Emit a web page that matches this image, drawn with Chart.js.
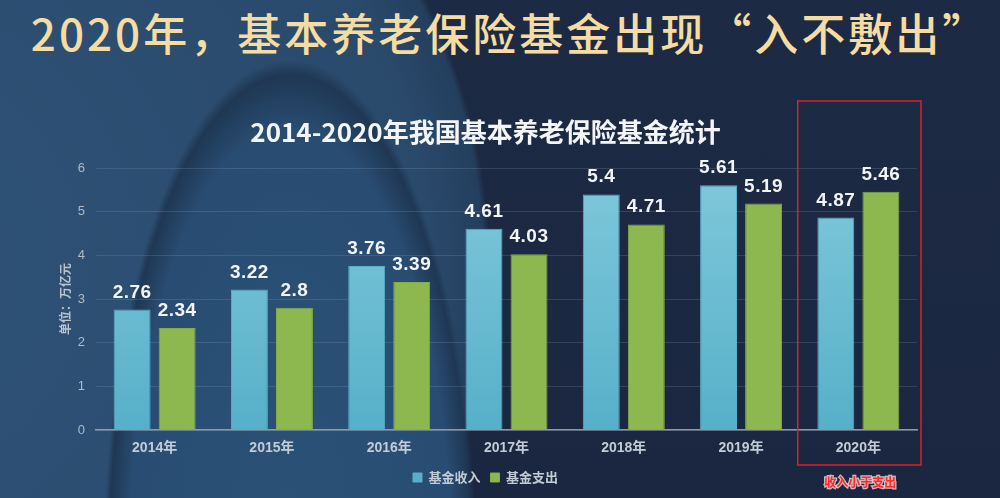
<!DOCTYPE html>
<html>
<head>
<meta charset="utf-8">
<script src="https://cdn.jsdelivr.net/npm/chart.js@4.4.1/dist/chart.umd.min.js"></script>
<style>
  html, body { margin: 0; padding: 0; }
  body {
    width: 1000px; height: 498px; overflow: hidden; position: relative;
    background:
      radial-gradient(ellipse 186px 500px at 290px 560px, #2b5177 0%, #294d72 86%, #1f3754 97%, rgba(31,55,84,0) 100%),
      radial-gradient(ellipse 640px 620px at -150px 270px, #2e5378 0%, #2a4a6c 90%, #243f5e 99%, rgba(36,63,94,0) 100%),
      linear-gradient(180deg, #1d2a44 0%, #1b2740 100%);
  }
  h1 {
    position: absolute; left: 10px; top: 0; width: 1000px; margin: 0;
    text-align: center; font: 500 44px "Noto Sans CJK SC", sans-serif;
    color: #f4dca2; line-height: 64px; letter-spacing: 3px;
  }
  #wrap { position: absolute; left: 0; top: 0; width: 1000px; height: 498px; }
</style>
</head>
<body>
<h1>2020年，基本养老保险基金出现“入不敷出”</h1>
<div id="wrap"><canvas id="chart" width="1000" height="498"></canvas></div>
<script>
const years = ['2014年', '2015年', '2016年', '2017年', '2018年', '2019年', '2020年'];
const income = [2.76, 3.22, 3.76, 4.61, 5.4, 5.61, 4.87];
const expense = [2.34, 2.8, 3.39, 4.03, 4.71, 5.19, 5.46];
const yTicks = [0, 1, 2, 3, 4, 5, 6];

const FONT = 'Arial, "Liberation Sans", "Noto Sans CJK SC", sans-serif';
const LEFT_PAD = 54;

// labels above each bar + red box round the last year
const overlay = {
  id: 'overlay',
  afterDatasetsDraw(chart) {
    const ctx = chart.ctx;
    ctx.save();
    ctx.font = 'bold 19px ' + FONT;
    ctx.letterSpacing = '0.5px';
    ctx.fillStyle = '#f2f4f6';
    ctx.textAlign = 'center';
    ctx.textBaseline = 'alphabetic';
    chart.data.datasets.forEach((ds, i) => {
      chart.getDatasetMeta(i).data.forEach((bar, j) => {
        ctx.fillText(String(ds.data[j]), bar.x, bar.y - 12);
      });
    });
    ctx.letterSpacing = '0px';

    const x = chart.scales.x;
    const last = years.length - 1;
    const half = (x.getPixelForValue(1) - x.getPixelForValue(0)) / 2;
    const cx = x.getPixelForValue(last);
    ctx.strokeStyle = '#d8232a';
    ctx.lineWidth = 1.5;
    ctx.strokeRect(cx - half - 2, 101, half * 2 + 6, 364);

    ctx.font = 'bold 12px "Noto Sans CJK SC", sans-serif';
    ctx.textBaseline = 'middle';
    ctx.lineWidth = 2.5;
    ctx.strokeStyle = 'rgba(255,220,220,0.8)';
    ctx.strokeText('收入小于支出', cx + 2, 482);
    ctx.fillStyle = '#ff2a2a';
    ctx.fillText('收入小于支出', cx + 2, 482);
    ctx.restore();
  }
};

const ctx = document.getElementById('chart').getContext('2d');
const blueGrad = ctx.createLinearGradient(0, 168, 0, 430);
blueGrad.addColorStop(0, '#80c8da');
blueGrad.addColorStop(1, '#56b0c9');

new Chart(ctx, {
  type: 'bar',
  data: {
    labels: years,
    datasets: [
      { label: '基金收入', data: income, backgroundColor: blueGrad, borderColor: '#5aaec6', borderWidth: 1 },
      { label: '基金支出', data: expense, backgroundColor: '#8db84f', borderColor: '#82ad47', borderWidth: 1 }
    ]
  },
  options: {
    responsive: false,
    animation: false,
    devicePixelRatio: 1,
    datasets: { bar: { categoryPercentage: 0.768, barPercentage: 0.82 } },
    layout: { padding: { left: LEFT_PAD, right: 83, top: 0, bottom: 4 } },
    plugins: {
      title: {
        display: true,
        text: '2014-2020年我国基本养老保险基金统计',
        color: '#f4f5f7',
        font: { family: '"Noto Sans CJK SC", sans-serif', size: 26, weight: 'bold' },
        padding: { top: 117, bottom: 20 }
      },
      legend: {
        position: 'bottom',
        labels: {
          color: '#c2ccd5',
          font: { family: '"Noto Sans CJK SC", sans-serif', size: 13, weight: 'bold' },
          boxWidth: 9, boxHeight: 9, padding: 10
        }
      },
      tooltip: { enabled: false }
    },
    scales: {
      x: {
        afterFit(axis) { axis.height = 31; },
        grid: { display: false, drawTicks: false },
        border: { color: '#8c99a8', width: 1.5 },
        ticks: { color: '#c3ccd5', font: { family: FONT, size: 14, weight: 'bold' }, padding: 10 }
      },
      y: {
        min: 0, max: 6,
        afterBuildTicks(axis) { axis.ticks = yTicks.map(v => ({ value: v })); },
        afterFit(axis) { axis.width = 96 - LEFT_PAD; },
        grid: { color: 'rgba(170,190,210,0.18)', drawTicks: false },
        border: { display: false },
        ticks: { color: '#b0bbc6', font: { family: FONT, size: 13 }, padding: 11 },
        title: {
          display: true, text: '单位：万亿元', color: '#b9c4ce',
          font: { family: '"Noto Sans CJK SC", sans-serif', size: 12, weight: 'bold' }, padding: { bottom: 0 }
        }
      }
    }
  },
  plugins: [overlay]
});
</script>
</body>
</html>
